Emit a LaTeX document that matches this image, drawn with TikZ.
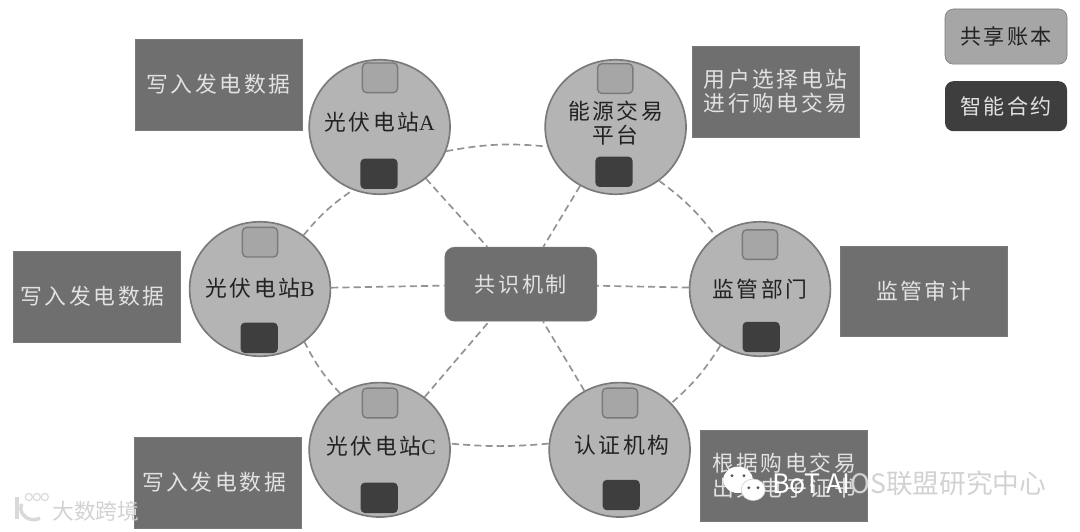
\documentclass[tikz,border=0pt]{standalone}
\usepackage{fontspec}
\setmainfont{Liberation Serif}
\newfontfamily\cjk[LetterSpace=12]{Noto Sans CJK SC}
\newfontfamily\markfont{Noto Sans CJK SC}
\usetikzlibrary{shapes, positioning, calc}

\definecolor{stationgray}{HTML}{B4B4B4}
\definecolor{edgegray}{HTML}{7A7A7A}
\definecolor{ledgergray}{HTML}{A6A6A6}
\definecolor{contractgray}{HTML}{3E3E3E}
\definecolor{boxgray}{HTML}{6F6F6F}
\definecolor{textgray}{HTML}{222222}
\definecolor{labelgray}{HTML}{E2E2E2}

\tikzset{
    station/.style={ellipse, draw=edgegray, fill=stationgray, line width=1.2pt, minimum width=3.52cm, minimum height=3.36cm, inner sep=0pt},
    ledger/.style={rectangle, rounded corners=3pt, draw=edgegray, fill=ledgergray, line width=1pt, minimum width=0.88cm, minimum height=0.74cm},
    contract/.style={rectangle, rounded corners=3pt, fill=contractgray, minimum width=0.93cm, minimum height=0.76cm},
    duty/.style={rectangle, draw=edgegray, fill=boxgray, text=labelgray, minimum width=4.18cm, minimum height=2.28cm, inner sep=0pt, align=center, font=\cjk\fontsize{15.5}{17.5}\selectfont},
    link/.style={line width=1.2pt, draw=gray!85, dash pattern=on 5pt off 3pt},
    stationtext/.style={text=textgray, align=center, font=\fontsize{15.5}{17.5}\selectfont}
}

\begin{document}
\begin{tikzpicture}
    \useasboundingbox (0,0) rectangle (27,13.275);

    % Stations and platforms
    \node[station] (pvA) at (9.49,10.10) {};
    \node[station] (trade) at (15.39,10.10) {};
    \node[station] (pvB) at (6.50,6.05) {};
    \node[station] (audit) at (19.00,6.05) {};
    \node[station] (pvC) at (9.49,2.03) {};
    \node[station] (cert) at (15.49,2.03) {};

    % Consensus in the middle
    \node[rectangle, rounded corners=7pt, draw=edgegray, fill=boxgray, text=labelgray, minimum width=3.8cm, minimum height=1.85cm, font=\cjk\fontsize{15}{19}\selectfont] (consensus) at (13.02,6.17) {共识机制};

    % Ring
    \draw[link] (pvA.-20) to[bend left=8] (trade.196);
    \draw[link] (trade.-51) to[bend left=8] (audit.130);
    \draw[link] (audit.235) to[bend left=8] (cert.42);
    \draw[link] (cert.175) to[bend left=5] (pvC.5);
    \draw[link] (pvC.125) to[bend left=8] (pvB.-50);
    \draw[link] (pvB.51) to[bend left=8] (pvA.247);

    % Spokes
    \foreach \name in {pvA,trade,pvB,audit,pvC,cert} {
        \draw[link] (\name) -- (consensus);
    }

    % Ledger and contract inside each station
    \foreach \name/\xa/\ya/\xb/\yb in {pvA/9.50/11.33/9.475/8.93, trade/15.38/11.31/15.35/8.98, pvB/6.50/7.22/6.48/4.83, audit/19.00/7.16/19.03/4.85, pvC/9.50/3.20/9.48/0.83, cert/15.50/3.20/15.53/0.90} {
        \node[ledger] (ledger\name) at (\xa,\ya) {};
        \node[contract] (contract\name) at (\xb,\yb) {};
    }

    % Station names
    \node[stationtext] (namepvA) at (9.49,10.22) {{\cjk 光伏电站}A};
    \node[stationtext] (nametrade) at (15.39,10.2) {{\cjk 能源交易}\\{\cjk 平台}};
    \node[stationtext] (namepvB) at (6.50,6.07) {{\cjk 光伏电站}B};
    \node[stationtext] (nameaudit) at (19.00,6.05) {{\cjk 监管部门}};
    \node[stationtext] (namepvC) at (9.53,2.12) {{\cjk 光伏电站}C};
    \node[stationtext] (namecert) at (15.55,2.15) {{\cjk 认证机构}};

    % Duties
    \node[duty] (dutyA) at (5.46,11.16) {写入发电数据};
    \node[duty] (dutytrade) at (19.39,10.99) {用户选择电站\\进行购电交易};
    \node[duty] (dutyB) at (2.41,5.86) {\hspace*{-0.2cm}写入发电数据};
    \node[duty, minimum height=2.25cm] (dutyaudit) at (23.09,6.00) {监管审计};
    \node[duty] (dutyC) at (5.45,1.21) {\hspace*{-0.2cm}写入发电数据};
    \node[duty] (dutycert) at (19.60,1.39) {根据购电交易\\出具电子证书};

    % Legend
    \node[rectangle, rounded corners=6pt, draw=edgegray, fill=ledgergray, text=textgray, minimum width=3.05cm, minimum height=1.38cm, font=\cjk\fontsize{15}{19}\selectfont] (legendledger) at (25.15,12.36) {共享账本};
    \node[rectangle, rounded corners=6pt, fill=contractgray, text=labelgray, minimum width=3.05cm, minimum height=1.25cm, font=\cjk\fontsize{15}{19}\selectfont] (legendcontract) at (25.15,10.62) {智能合约};

    % Watermarks
    \fill[white] (18.45,1.28) ellipse (0.37 and 0.33);
    \fill[white, draw=gray!40] (18.83,1.03) ellipse (0.30 and 0.27);
    \foreach \x/\y in {18.30/1.38, 18.60/1.38, 18.72/1.08, 18.95/1.08} {
        \fill[gray!70!black] (\x,\y) circle (0.04);
    }
    \node[anchor=west, inner sep=0pt, text=gray!35, font=\markfont\fontsize{19}{22}\selectfont] (markbot) at (19.3,1.2) {\textcolor{white}{BoT AI}OS联盟研究中心};
    \node[anchor=west, inner sep=0pt, text=gray!35, font=\markfont\fontsize{15.5}{18}\selectfont] (markcross) at (1.3,0.5) {大数跨境};
    \draw[gray!30, line width=2.5pt] (0.42,0.85) -- (0.42,0.3);
    \draw[gray!30, line width=2.5pt] (1.0,0.32) arc (-60:-200:0.32 and 0.3);
    \foreach \x in {0.72,0.92,1.12} {
        \draw[gray!30, line width=0.8pt] (\x,0.85) circle (0.09);
    }
\end{tikzpicture}
\end{document}
